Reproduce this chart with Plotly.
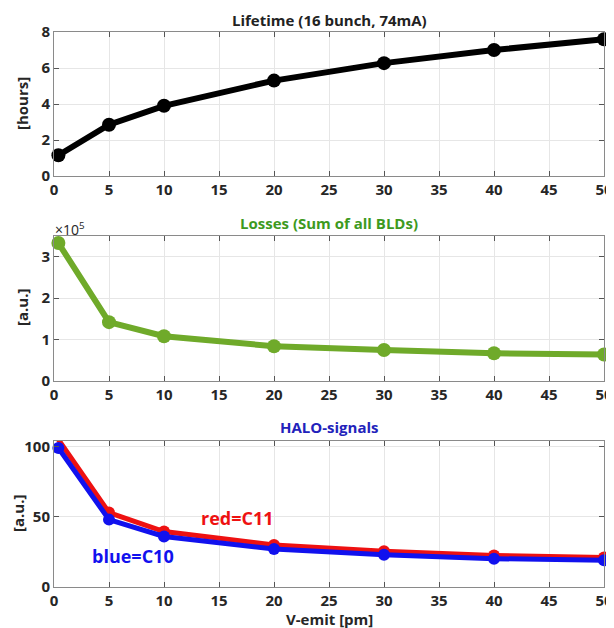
import plotly.graph_objects as go

x_emit = [0.4, 5, 10, 20, 30, 40, 50]
lifetime_hours = [1.15, 2.85, 3.9, 5.3, 6.27, 7.0, 7.6]
losses = [3.33e5, 1.42e5, 1.08e5, 0.84e5, 0.75e5, 0.67e5, 0.64e5]
halo_c11 = [105, 53, 39.5, 30, 25.5, 22.5, 21]
halo_c10 = [99, 48, 36, 27, 23, 20.2, 19]

x_ticks = [0, 5, 10, 15, 20, 25, 30, 35, 40, 45, 50]
y1_ticks = [0, 2, 4, 6, 8]
y2_ticks = [0, 1e5, 2e5, 3e5]
y2_labels = ["0", "1", "2", "3"]
y3_ticks = [0, 50, 100]

W, H = 614, 628
OFF = 8  # page body margin offset
PL, PR = 54, 604  # plot left/right on screen
FONT = "Open Sans"
TICKCOL = "#262626"

fig = go.Figure()

def trace(y, color, xa, ya, lw=6, ms=14):
    fig.add_trace(go.Scatter(x=x_emit, y=y, mode="lines+markers", xaxis=xa, yaxis=ya,
                             line=dict(color=color, width=lw),
                             marker=dict(color=color, size=ms), showlegend=False,
                             cliponaxis=False))

trace(lifetime_hours, "black", "x", "y")
trace(losses, "#6faa2a", "x2", "y2")
trace(halo_c11, "#ee1111", "x3", "y3", lw=5, ms=12)
trace(halo_c10, "#1111ee", "x3", "y3", lw=5, ms=12)

def py(ypx):
    return 1 - (ypx - OFF) / H

def px(xpx):
    return (xpx - PL) / (PR - PL)

def px2dom(top, bottom):
    return [py(bottom), py(top)]

tfont = dict(family=FONT, size=15, color=TICKCOL, weight="bold")
axcommon = dict(showline=True, linecolor="#8a8a8a", linewidth=1, mirror="ticks",
                ticks="inside", ticklen=5, tickcolor="#555555",
                showgrid=True, gridcolor="#e6e6e6", zeroline=False,
                automargin=False, tickfont=tfont)

doms = [px2dom(32, 176), px2dom(236, 381), px2dom(441, 587)]
xnames = ["xaxis", "xaxis2", "xaxis3"]
ynames = ["yaxis", "yaxis2", "yaxis3"]
yranges = [[0, 8], [0, 3.5e5], [0, 104]]
ytv = [y1_ticks, y2_ticks, y3_ticks]
ytt = [[str(v) for v in y1_ticks], y2_labels, [str(v) for v in y3_ticks]]

layout = dict()
for i in range(3):
    xa = dict(axcommon, domain=[0, 1], range=[0, 50], tickvals=x_ticks,
              anchor="y" if i == 0 else f"y{i+1}")
    ya = dict(axcommon, domain=doms[i], range=yranges[i], tickvals=ytv[i], ticktext=ytt[i],
              anchor="x" if i == 0 else f"x{i+1}")
    layout[xnames[i]] = xa
    layout[ynames[i]] = ya

titles = [("Lifetime (16 bunch, 74mA)", "#222222", 20),
          ("Losses (Sum of all BLDs)", "#3d9a1e", 223),
          ("HALO-signals", "#2222bb", 427)]
annotations = []
for t, c, ypx in titles:
    annotations.append(dict(text=t, x=0.5, xref="paper", y=py(ypx), yref="paper",
                            showarrow=False, xanchor="center", yanchor="middle",
                            font=dict(family=FONT, size=15, color=c, weight="bold")))
# y-axis titles
for t, xpx, ypx in [("[hours]", 22, 104), ("[a.u.]", 22, 308), ("[a.u.]", 18, 514)]:
    annotations.append(dict(text=t, x=px(xpx), xref="paper", y=py(ypx), yref="paper",
                            showarrow=False, textangle=-90, xanchor="center", yanchor="middle",
                            font=tfont))
annotations.append(dict(text="V-emit [pm]", x=0.5, xref="paper", y=py(619), yref="paper",
                        showarrow=False, xanchor="center", yanchor="middle", font=tfont))
annotations.append(dict(text="×10<sup>5</sup>", x=px(53), xref="paper", y=py(229), yref="paper",
                        showarrow=False, xanchor="left", yanchor="middle",
                        font=dict(family=FONT, size=14, color=TICKCOL)))
annotations.append(dict(text="red=C11", x=16.7, xref="x3", y=49.3, yref="y3", showarrow=False,
                        font=dict(family=FONT, size=18, color="#ee1111", weight="bold")))
annotations.append(dict(text="blue=C10", x=7.2, xref="x3", y=22.4, yref="y3", showarrow=False,
                        font=dict(family=FONT, size=18, color="#1111ee", weight="bold")))

fig.update_layout(width=W, height=H,
                  margin=dict(l=PL - OFF, r=W - (PR - OFF), t=0, b=0),
                  plot_bgcolor="white", paper_bgcolor="white",
                  annotations=annotations, **layout)

fig.write_html("out.html")
